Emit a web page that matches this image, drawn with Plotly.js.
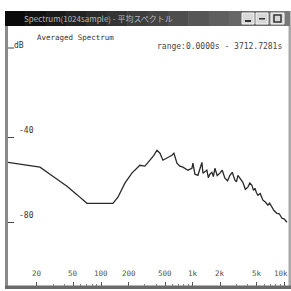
<!DOCTYPE html>
<html><head><meta charset="utf-8">
<script src="https://cdn.plot.ly/plotly-3.0.1.min.js"></script>
<style>html,body{margin:0;padding:0;background:#fff;}#plot{width:291px;height:291px;}</style>
</head><body><div id="plot"></div>
<script>
const freqHz = [9.66,13.1,16.8,21.6,27.7,33.9,42.5,54.6,70.2,97.3,134.8,152.8,182,217,265,301,341,377,407,439,473,524,593,624,673,725,782,887,980,1005,1057,1140,1260,1292,1428,1480,1540,1619,1680,1746,1850,1981,2100,2244,2400,2547,2700,2886,3000,3112,3300,3524,3750,3998,4200,4424,4600,4770,4950,5140,5450,5830,6200,6607,6900,7311,7700,8280,8800,9397,10000,10650];
const levelDb = [-51.8,-52.7,-53.6,-54.1,-57.4,-60.0,-63.1,-67.0,-71.1,-71.1,-71.1,-68.2,-61.6,-56.9,-53.2,-53.6,-50.8,-48.5,-46.1,-47.5,-50.8,-49.9,-48.5,-47.5,-52.2,-53.6,-54.1,-55.5,-54.6,-52.2,-57.4,-57.9,-51.8,-56.9,-55.5,-59.0,-57.4,-56.5,-58.5,-54.6,-58.0,-56.9,-55.5,-59.3,-60.5,-57.9,-56.5,-60.2,-61.0,-57.9,-59.5,-61.2,-64.5,-63.5,-61.5,-62.6,-65.0,-64.0,-66.0,-67.3,-66.5,-69.6,-70.5,-72.0,-71.0,-72.9,-74.5,-75.8,-76.0,-78.1,-78.5,-80.0];
const xTickVals = [20,50,100,200,500,1000,2000,5000,10000];
const xTickText = ["20","50","100","200","500","1k","2k","5k","10k"];
const yTickVals = [-40,-80];
const yTickText = ["-40","-80"];
const windowTitle = "Spectrum(1024sample) - 平均スペクトル";
const chartTitle = "Averaged Spectrum";
const rangeText = "range:0.0000s - 3712.7281s";
const unitText = "dB";

// plot area: x 8..288, y 31..286 (px)
const W=280, H=255, L=8, T=31;
const px = v => (v-L)/W;
const py = v => (T+H-v)/H;

const shapes = [];
const steps = 14, x0p=5, x1p=290;
for(let i=0;i<steps;i++){
  const a = x0p + (x1p-x0p)*i/steps, b = x0p + (x1p-x0p)*(i+1)/steps + 0.5;
  const c = Math.round(10 + 110*i/(steps-1));
  shapes.push({type:'rect',xref:'paper',yref:'paper',x0:px(a),x1:px(b),y0:py(26),y1:py(11),fillcolor:`rgb(${c},${c},${c})`,line:{width:0},layer:'above'});
}
[[242,254],[256,268],[271,284]].forEach(([a,b])=>{
  shapes.push({type:'rect',xref:'paper',yref:'paper',x0:px(a),x1:px(b),y0:py(24),y1:py(13),fillcolor:'#d8d8d8',line:{width:1,color:'#f4f4f4'},layer:'above'});
});
shapes.push({type:'rect',xref:'paper',yref:'paper',x0:px(245),x1:px(251),y0:py(22),y1:py(20),fillcolor:'#333',line:{width:0},layer:'above'});
shapes.push({type:'rect',xref:'paper',yref:'paper',x0:px(259),x1:px(265),y0:py(19.5),y1:py(18),fillcolor:'#333',line:{width:0},layer:'above'});
shapes.push({type:'rect',xref:'paper',yref:'paper',x0:px(274),x1:px(281),y0:py(22),y1:py(15),fillcolor:'rgba(0,0,0,0)',line:{width:1.5,color:'#333'},layer:'above'});
shapes.push({type:'rect',xref:'paper',yref:'paper',x0:px(5),x1:px(8),y0:py(289),y1:py(26),fillcolor:'#8a8a8a',line:{width:0},layer:'above'});
shapes.push({type:'rect',xref:'paper',yref:'paper',x0:px(288.5),x1:px(291),y0:py(289),y1:py(26),fillcolor:'#a8a8a8',line:{width:0},layer:'above'});
shapes.push({type:'rect',xref:'paper',yref:'paper',x0:px(5),x1:px(291),y0:py(289),y1:py(285.5),fillcolor:'#6a6a6a',line:{width:0},layer:'above'});
shapes.push({type:'line',xref:'paper',yref:'paper',x0:px(8),x1:px(14),y0:py(48),y1:py(48),line:{width:1,color:'#444'},layer:'above'});

const annotations = [
  {text:windowTitle,xref:'paper',yref:'paper',x:px(22),y:py(18.5),xanchor:'left',yanchor:'middle',showarrow:false,font:{family:'Noto Sans CJK JP, DejaVu Sans',size:8,color:'#b8b8b8'}},
  {text:chartTitle,xref:'paper',yref:'paper',x:px(35),y:py(37),xanchor:'left',yanchor:'middle',showarrow:false,font:{family:'DejaVu Sans Mono',size:7.5,color:'#333'}},
  {text:rangeText,xref:'paper',yref:'paper',x:px(284),y:py(46),xanchor:'right',yanchor:'middle',showarrow:false,font:{family:'DejaVu Sans Mono',size:8,color:'#444'}},
  {text:unitText,xref:'paper',yref:'paper',x:px(12),y:py(45),xanchor:'left',yanchor:'middle',showarrow:false,font:{family:'DejaVu Sans Mono',size:8,color:'#333'}}
];
xTickVals.forEach((v,i)=>{
  const last = i===xTickVals.length-1;
  annotations.push({text:xTickText[i],xref:'x',yref:'paper',x:Math.log10(v),y:py(273),xanchor:'center',xshift:last?-3:0,yanchor:'middle',showarrow:false,font:{family:'DejaVu Sans Mono',size:7.5,color:'#555'}});
});
yTickVals.forEach((v,i)=>{
  annotations.push({text:yTickText[i],xref:'paper',yref:'y',x:px(17),y:v,yshift:7,xanchor:'left',yanchor:'middle',showarrow:false,font:{family:'DejaVu Sans Mono',size:8,color:'#333'}});
});

const data = [{x:freqHz,y:levelDb,type:'scatter',mode:'lines',line:{color:'#2a2a2a',width:1.3},hoverinfo:'skip'}];

const layout = {
  width:291,height:291,
  margin:{l:8,r:3,t:31,b:5,pad:0},
  paper_bgcolor:'#ffffff',plot_bgcolor:'#ffffff',
  showlegend:false,
  xaxis:{type:'log',range:[Math.log10(9.66),Math.log10(10950)],tickvals:xTickVals,showticklabels:false,
    ticks:'inside',ticklen:4,tickcolor:'#555',showgrid:false,zeroline:false,showline:false,
    minor:{ticks:'inside',ticklen:2,tickcolor:'#888',tickvals:[30,40,60,70,80,90,300,400,600,700,800,900,3000,4000,6000,7000,8000,9000]}},
  yaxis:{range:[-110,10],tickvals:yTickVals,showticklabels:false,ticks:'inside',ticklen:6,tickcolor:'#444',
    showgrid:false,zeroline:false,showline:false},
  shapes:shapes,annotations:annotations
};
Plotly.newPlot('plot',data,layout,{staticPlot:true,displayModeBar:false});
</script></body></html>
